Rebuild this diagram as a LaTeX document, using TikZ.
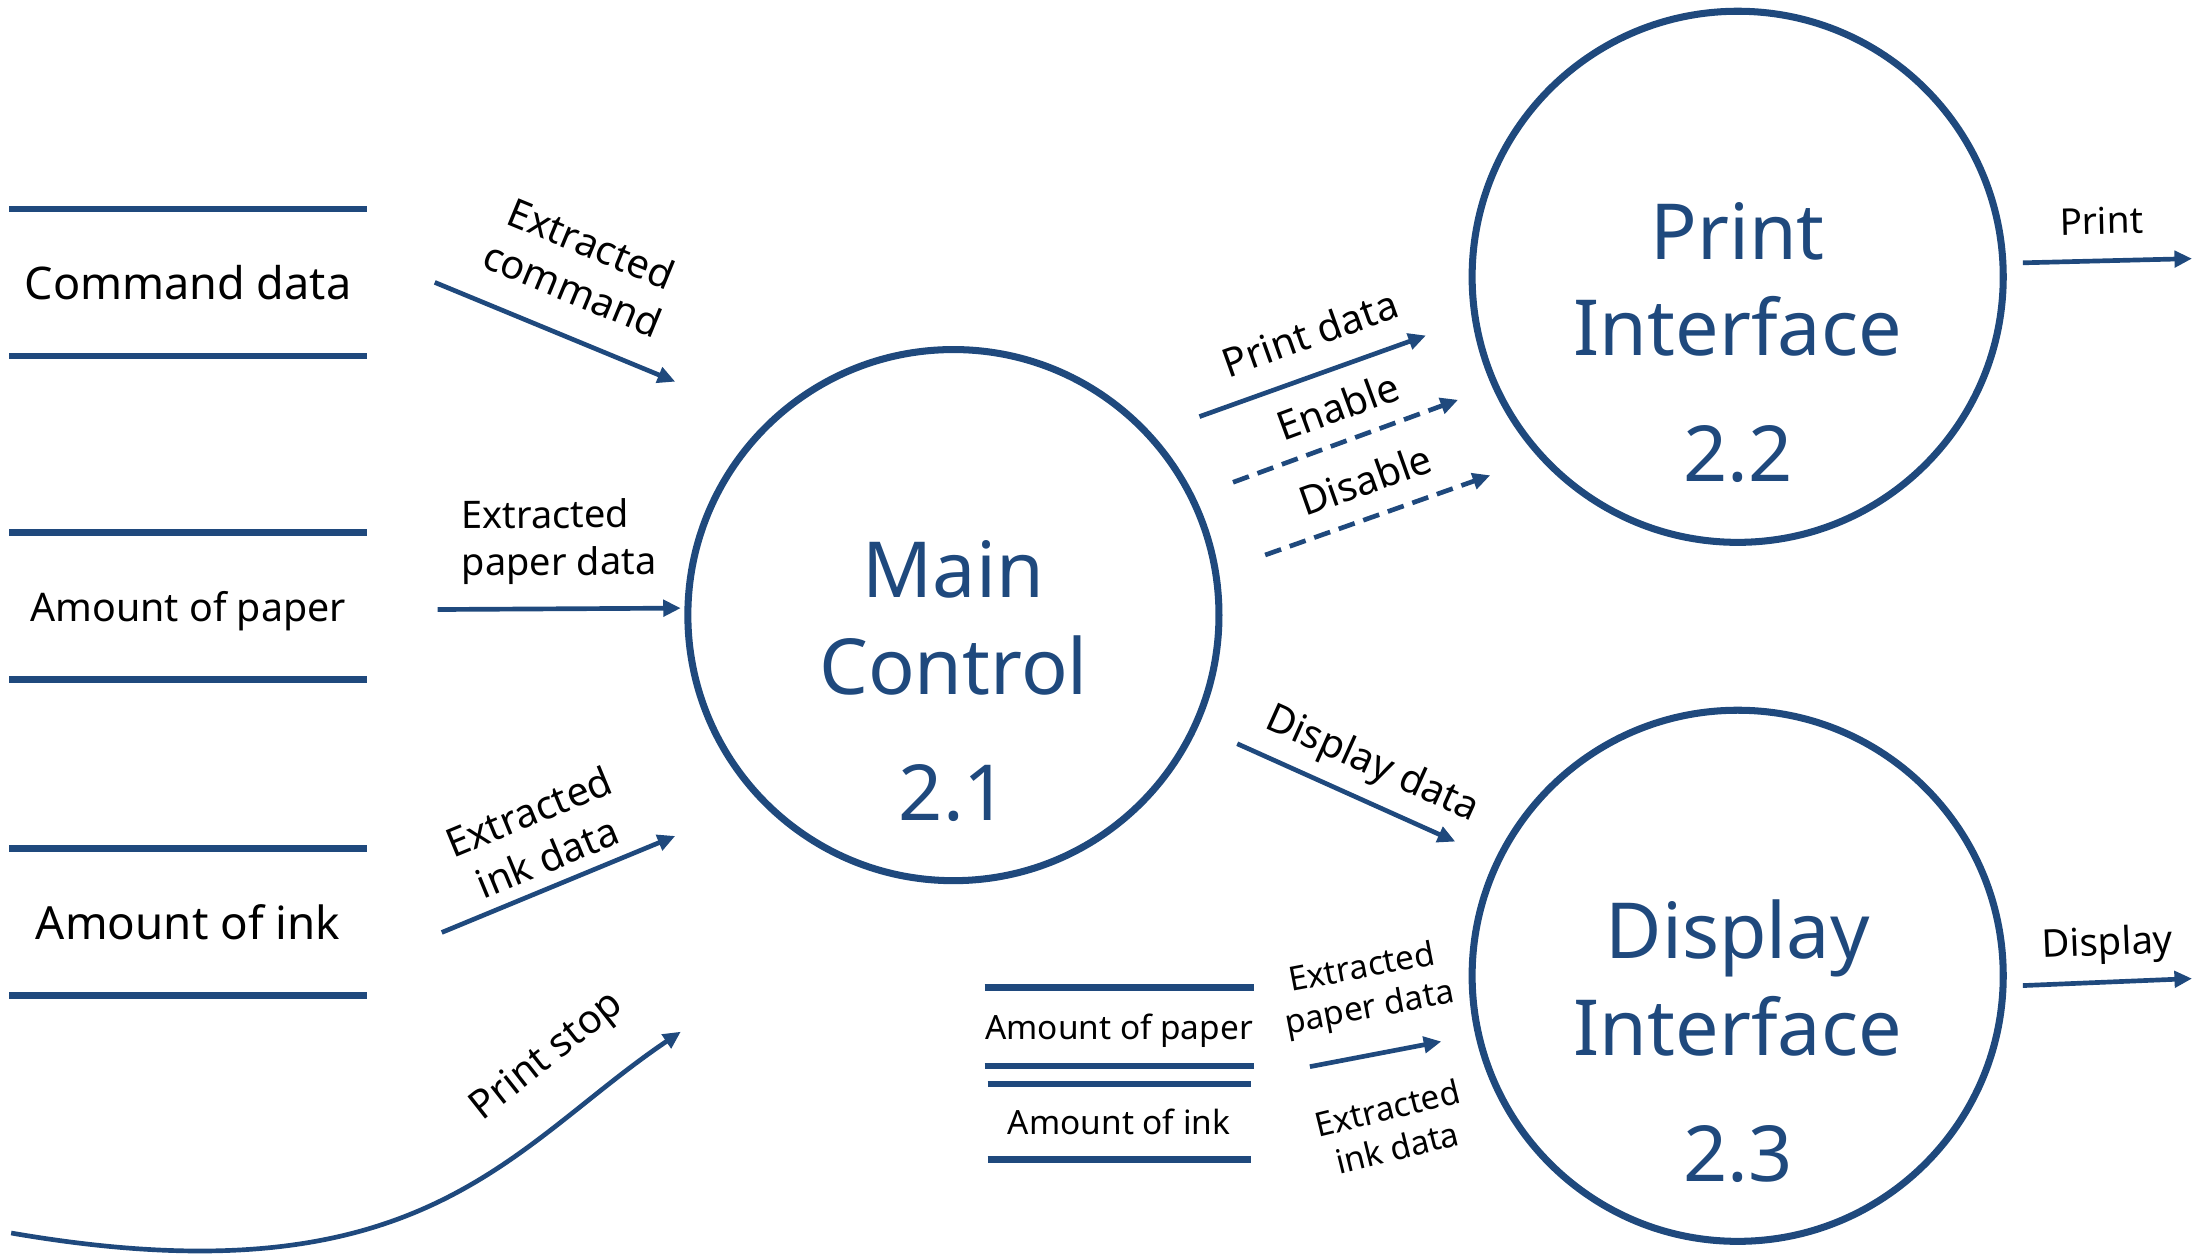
\documentclass[tikz,border=0pt]{standalone}
\usepackage{fontspec}
\setmainfont{Noto Sans}
\usetikzlibrary{arrows.meta, positioning}
\definecolor{dfdblue}{RGB}{31,73,125}

\begin{document}
\begin{tikzpicture}[x=0.01398cm, y=-0.01398cm, >={Triangle[length=5pt, width=4.6pt]}]
	\tikzstyle{proc}  = [draw=dfdblue, line width=2pt, circle, minimum size=5.31cm, inner sep=0pt]
	\tikzstyle{ptext} = [text=dfdblue, font=\fontsize{22}{27.5}\selectfont, align=center]
	\tikzstyle{store} = [inner sep=0pt, text depth=0pt, minimum width=3.565cm, minimum height=1.454cm]
	\tikzstyle{sline} = [draw=dfdblue, line width=1.85pt]
	\tikzstyle{flow}  = [->, color=dfdblue, line width=1.33pt]
	\tikzstyle{ctrl}  = [flow, dash pattern=on 4.8pt off 2.6pt]
	\tikzstyle{lbl}   = [text=black, font=\fontsize{11.3}{14}\selectfont, sloped, align=center]
	\tikzstyle{small} = [font=\fontsize{9.5}{11.6}\selectfont]

	\useasboundingbox (0,0) rectangle (1568,897);

	% processes
	\node[proc]		at (682, 440)		(mc)	{};
	\node[proc]		at (1243, 198)		(pi)	{};
	\node[proc]		at (1243, 698)		(di)	{};
	\node[ptext]	at (682, 487)		(mcT)	{Main\\Control\\[8.4pt]2.1};
	\node[ptext]	at (1243, 245)		(piT)	{Print\\Interface\\[8.4pt]2.2};
	\node[ptext]	at (1243, 745)		(diT)	{Display\\Interface\\[8.4pt]2.3};

	% data stores
	\node[store, font=\fontsize{12.8}{15}\selectfont]	at (134.5, 202)		(cmd)	{Command data};
	\node[store, font=\fontsize{11.2}{13}\selectfont]	at (134.5, 433.5)	(pap)	{Amount of paper};
	\node[store, font=\fontsize{13}{15}\selectfont]		at (134.5, 659.5)	(ink)	{Amount of ink};
	\node[store, small, minimum width=2.614cm, minimum height=0.769cm]	at (800.5, 734.5)	(pap2)	{Amount of paper};
	\node[store, small, minimum width=2.614cm, minimum height=0.741cm]	at (800.5, 802.5)	(ink2)	{Amount of ink};
	\foreach \s in {cmd, pap, ink, pap2, ink2}
		\draw[sline] (\s.north west) -- (\s.north east) (\s.south west) -- (\s.south east);

	% flow ends
	\coordinate (a1) at (311, 202);		\coordinate (b1) at (483, 273);
	\coordinate (a2) at (313, 436);		\coordinate (b2) at (487, 435);
	\coordinate (a3) at (316, 667);		\coordinate (b3) at (483, 598);
	\coordinate (a4) at (8, 882);		\coordinate (b4) at (487, 738);
	\coordinate (a5) at (858, 298);		\coordinate (b5) at (1020, 240);
	\coordinate (a6) at (882, 345);		\coordinate (b6) at (1043, 286);
	\coordinate (a7) at (905, 397);		\coordinate (b7) at (1066, 340);
	\coordinate (a8) at (885, 532);		\coordinate (b8) at (1041, 602);
	\coordinate (a9) at (1447, 188);	\coordinate (b9) at (1568, 185);
	\coordinate (a10) at (1447, 705);	\coordinate (b10) at (1568, 700);
	\coordinate (a11) at (937, 763);	\coordinate (b11) at (1031, 745);

	\path[flow]
	(a1)	edge	node[lbl, above=5pt]	{Extracted\\command}	(b1)
	(a2)	edge	node[lbl, above=3pt, align=left, font=\fontsize{10.8}{13.4}\selectfont]	{Extracted\\paper data}	(b2)
	(a3)	edge	node[lbl, above, pos=0.5]	{Extracted\\ink data}	(b3)
	(a5)	edge	node[lbl, above=3.4pt, pos=0.55]	{Print data}	(b5)
	(a8)	edge	node[lbl, above=0.5pt, pos=0.55]	{Display data}	(b8)
	(a9)	edge	node[lbl, above=3.5pt, pos=0.47, font=\fontsize{10.5}{12}\selectfont]	{Print}	(b9)
	(a10)	edge	node[lbl, above=1pt, pos=0.51, font=\fontsize{10.9}{12}\selectfont]	{Display}	(b10)
	(a11)	edge	node[lbl, small, above=4pt, pos=0.52]	{Extracted\\paper data}
				node[lbl, small, below=8pt, rotate=3]	{Extracted\\ink data}	(b11);

	\path[ctrl]
	(a6)	edge	node[lbl, above=1.7pt, pos=0.52]	{Enable}	(b6)
	(a7)	edge	node[lbl, above=2.3pt, pos=0.5]	{Disable}	(b7);

	\draw[flow] (a4) .. controls (303, 933) and (364, 821) .. node[lbl, pos=0.8, above=7.5pt] {Print stop} (b4);
\end{tikzpicture}
\end{document}
